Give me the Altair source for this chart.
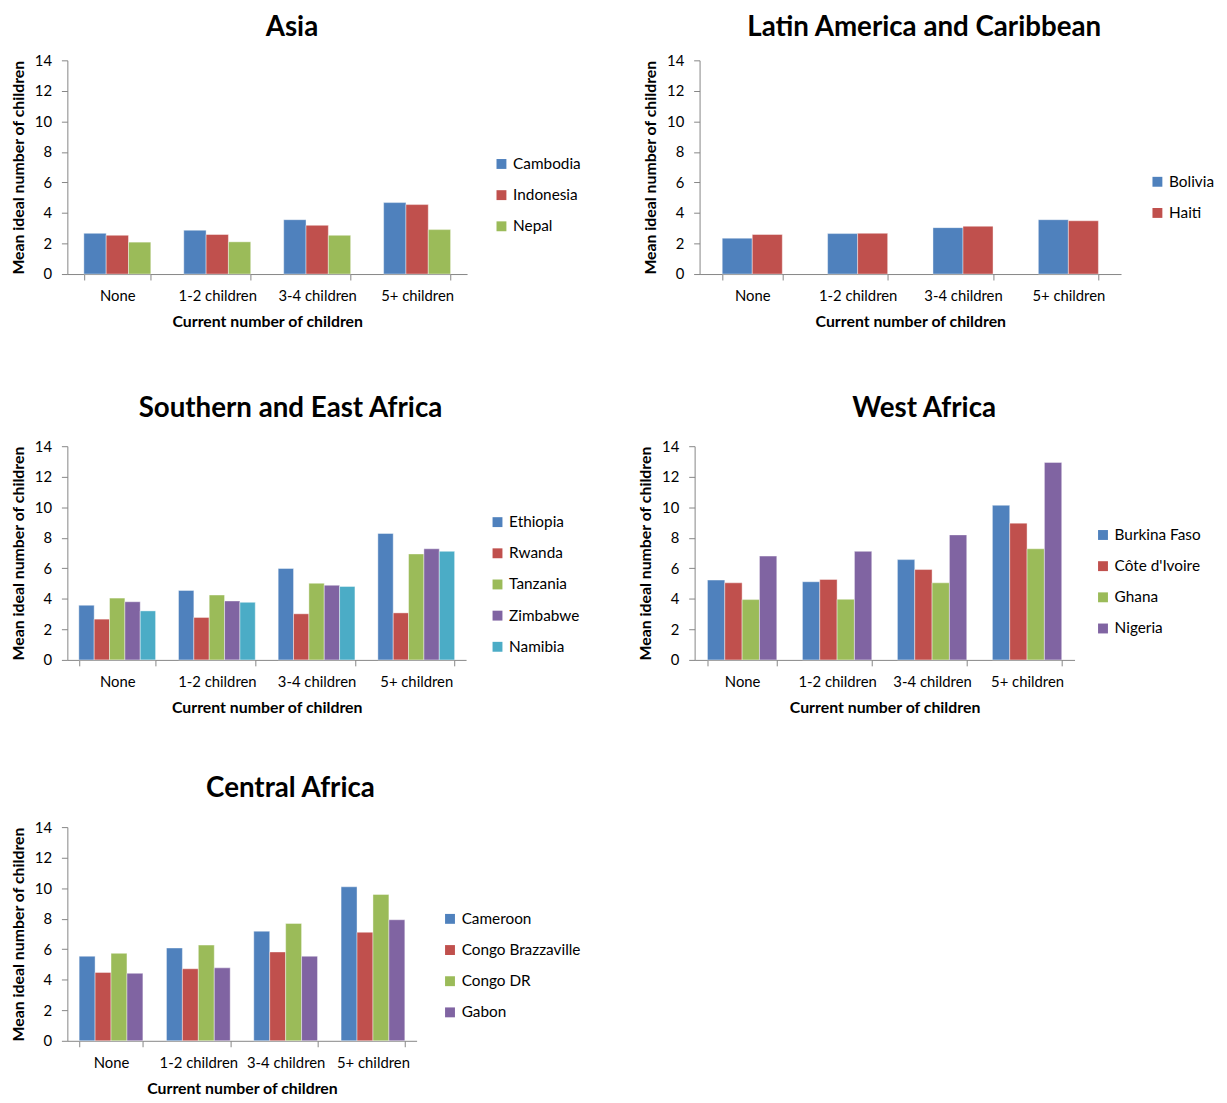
import altair as alt
import pandas as pd

categories = ["None", "1-2 children", "3-4 children", "5+ children"]

# Asia
asia_countries = ["Cambodia", "Indonesia", "Nepal"]
asia_cambodia = [2.67, 2.87, 3.56, 4.68]
asia_indonesia = [2.54, 2.59, 3.19, 4.55]
asia_nepal = [2.09, 2.11, 2.54, 2.91]

# Latin America and Caribbean
latam_countries = ["Bolivia", "Haiti"]
latam_bolivia = [2.35, 2.65, 3.04, 3.56]
latam_haiti = [2.59, 2.67, 3.13, 3.49]

# Southern and East Africa
south_countries = ["Ethiopia", "Rwanda", "Tanzania", "Zimbabwe", "Namibia"]
south_ethiopia = [3.58, 4.55, 5.99, 8.28]
south_rwanda = [2.67, 2.78, 3.02, 3.08]
south_tanzania = [4.05, 4.25, 5.02, 6.94]
south_zimbabwe = [3.81, 3.86, 4.89, 7.28]
south_namibia = [3.21, 3.77, 4.81, 7.11]

# West Africa
west_countries = ["Burkina Faso", "Côte d'Ivoire", "Ghana", "Nigeria"]
west_burkina = [5.23, 5.12, 6.57, 10.13]
west_cote = [5.05, 5.27, 5.92, 8.96]
west_ghana = [3.95, 3.97, 5.05, 7.28]
west_nigeria = [6.80, 7.11, 8.19, 12.94]

# Central Africa
central_countries = ["Cameroon", "Congo Brazzaville", "Congo DR", "Gabon"]
central_cameroon = [5.54, 6.08, 7.18, 10.09]
central_brazza = [4.48, 4.72, 5.82, 7.11]
central_drc = [5.73, 6.27, 7.69, 9.59]
central_gabon = [4.42, 4.78, 5.54, 7.93]

palette = ["#4F81BD", "#C0504D", "#9BBB59", "#8064A2", "#4BACC6"]

FONT = "Lato"


def make_panel(title, countries, series, width, pad, lx, ly, tdx, toff):
    rows = []
    for c, vals in zip(countries, series):
        for g, v in zip(categories, vals):
            rows.append({"group": g, "country": c, "value": v})
    df = pd.DataFrame(rows)
    return (
        alt.Chart(df)
        .mark_bar(stroke="white", strokeWidth=0.6, strokeOpacity=0.7)
        .encode(
            x=alt.X(
                "group:N",
                sort=categories,
                scale=alt.Scale(paddingInner=pad, paddingOuter=pad / 2),
                axis=alt.Axis(
                    title="Current number of children",
                    labelAngle=0,
                    tickBand="extent",
                    tickSize=6,
                    labelPadding=9,
                    titlePadding=10,
                ),
            ),
            xOffset=alt.XOffset(
                "country:N",
                sort=countries,
                scale=alt.Scale(paddingInner=0, paddingOuter=0),
            ),
            y=alt.Y(
                "value:Q",
                scale=alt.Scale(domain=[0, 14], nice=False),
                axis=alt.Axis(
                    title="Mean ideal number of children",
                    values=[0, 2, 4, 6, 8, 10, 12, 14],
                    grid=False,
                    tickSize=6,
                    labelPadding=10,
                    titlePadding=8,
                ),
            ),
            color=alt.Color(
                "country:N",
                sort=countries,
                scale=alt.Scale(domain=countries, range=palette[: len(countries)]),
                legend=alt.Legend(
                    title=None,
                    orient="none",
                    legendX=lx,
                    legendY=ly,
                    symbolType="square",
                    symbolSize=100,
                    symbolStrokeWidth=0,
                    labelFontSize=15.5,
                    labelFont=FONT,
                    labelColor="black",
                    rowPadding=14.5,
                    labelOffset=4,
                ),
            ),
        )
        .properties(
            width=width,
            height=216,
            title=alt.TitleParams(
                title, fontSize=28, font=FONT, fontWeight="bold", color="black",
                offset=toff, dx=tdx
            ),
        )
    )


asia = make_panel("Asia", asia_countries,
                  [asia_cambodia, asia_indonesia, asia_nepal], 404, 0.33, 431, 97, 25, 12)
latam = make_panel("Latin America and Caribbean", latam_countries,
                   [latam_bolivia, latam_haiti], 426, 0.43, 455, 115, 14, 12)
south = make_panel("Southern and East Africa", south_countries,
                   [south_ethiopia, south_rwanda, south_tanzania, south_zimbabwe, south_namibia],
                   403, 0.23, 427, 69, 24, 17)
west = make_panel("West Africa", west_countries,
                  [west_burkina, west_cote, west_ghana, west_nigeria], 384, 0.27, 405, 82, 40, 17)
central = make_panel("Central Africa", central_countries,
                     [central_cameroon, central_brazza, central_drc, central_gabon],
                     353, 0.27, 379, 85, 49, 17)

RES = dict(color="independent", x="independent", y="independent", xOffset="independent")

row1 = alt.hconcat(asia, latam, spacing=62).resolve_scale(**RES).resolve_legend(color="independent")
row2 = alt.hconcat(south, west, spacing=58).resolve_scale(**RES).resolve_legend(color="independent")

top = alt.vconcat(row1, row2, spacing=66).resolve_scale(**RES).resolve_legend(color="independent")

chart = (
    alt.vconcat(top, central, spacing=61)
    .resolve_scale(**RES)
    .resolve_legend(color="independent")
    .properties(padding={"left": 2, "top": 0, "right": 5, "bottom": 5})
    .configure_view(stroke=None)
    .configure_axis(
        labelFont=FONT,
        titleFont=FONT,
        labelFontSize=15,
        titleFontSize=16,
        titleFontWeight="bold",
        labelColor="black",
        titleColor="black",
        domainColor="#868686",
        tickColor="#868686",
    )
)

chart.save("out.html", embed_options={"renderer": "svg", "actions": False})
